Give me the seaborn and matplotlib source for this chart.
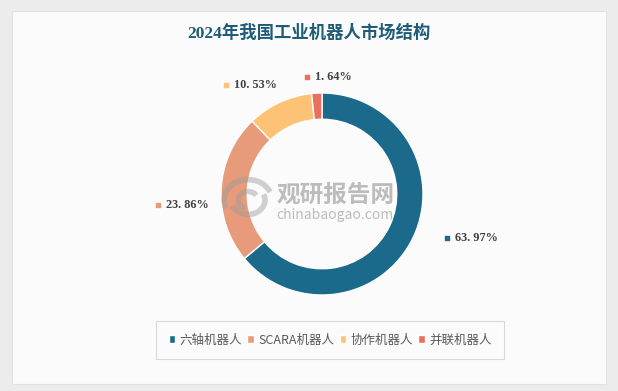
import matplotlib.pyplot as plt
import seaborn as sns
from matplotlib.patches import Rectangle, Arc

# data
categories = ['六轴机器人', 'SCARA机器人', '协作机器人', '并联机器人']
shares = [63.97, 23.86, 10.53, 1.64]
share_labels = ['63. 97%', '23. 86%', '10. 53%', '1. 64%']
colors = ['#1B6A8C', '#E89B7A', '#FDC276', '#E8705E']

# label anchor positions (px from top-left)
label_pos = [(447, 238), (158, 205), (226, 85), (307, 77)]

sns.set_theme(style='white')
plt.rcParams['font.family'] = ['Noto Sans CJK SC', 'DejaVu Sans']
serif = ['Liberation Serif', 'Noto Sans CJK SC']

W, H = 618, 391
fig = plt.figure(figsize=(W / 100, H / 100), dpi=100)
fig.patch.set_facecolor('#ECECEC')
ax = fig.add_axes([0, 0, 1, 1])
ax.set_facecolor('none')

# white panel
ax.add_patch(Rectangle((12, H - 384), 594, 373, fc='#FBFBFB', ec='#E2E2E2', lw=0.8, zorder=0))

# donut
cx, cy, R = 322, H - 194, 101
wedges, _ = ax.pie(shares, colors=colors, startangle=90, counterclock=False,
                   center=(cx, cy), radius=R, frame=True,
                   wedgeprops=dict(width=R * 0.26, edgecolor='white', linewidth=1))
ax.set_xlim(0, W)
ax.set_ylim(0, H)
ax.axis('off')

# watermark
for r, a1, a2 in [(24, 20, 200), (17, 200, 20), (10, 30, 250)]:
    ax.add_patch(Arc((248, H - 200), 2 * r, 2 * r * 0.85, theta1=a1, theta2=a2,
                     color='#9A9A9A', lw=4, alpha=0.45, zorder=5))
ax.text(cx + 14, H - 195, '观研报告网', fontsize=17, fontweight='bold', color='#7E7E7E',
        alpha=0.5, ha='center', va='center', zorder=5)
ax.text(cx + 13, H - 215, 'chinabaogao.com', fontsize=10, color='#7E7E7E',
        alpha=0.5, ha='center', va='center', zorder=5)

# data labels
for (x, y), lab, c in zip(label_pos, share_labels, colors):
    ax.scatter([x], [H - y], marker='s', s=9, color=c, zorder=6)
    ax.text(x + 8, H - y, lab, fontsize=8.8, fontweight='bold', color='#404040',
            family=serif, ha='left', va='center', zorder=6)

# title
fig.text(309 / W, 1 - 33 / H, '2024年我国工业机器人市场结构', fontsize=12.5,
         fontweight='bold', color='#1F5C78', family=serif, ha='center', va='center')

# legend
leg = ax.legend(wedges, categories, ncol=4, loc='center',
                bbox_to_anchor=(330 / W, 1 - 340 / H), bbox_transform=fig.transFigure,
                frameon=True, fancybox=False, edgecolor='#D0D0D0', fontsize=9,
                labelcolor='#595959', handlelength=0.55, handleheight=0.55,
                handletextpad=0.3, columnspacing=0.45, borderpad=1.0, borderaxespad=0)
leg.get_frame().set_linewidth(0.8)
leg.get_frame().set_facecolor('#FBFBFB')

fig.savefig('out.png', dpi=100, facecolor=fig.get_facecolor())
